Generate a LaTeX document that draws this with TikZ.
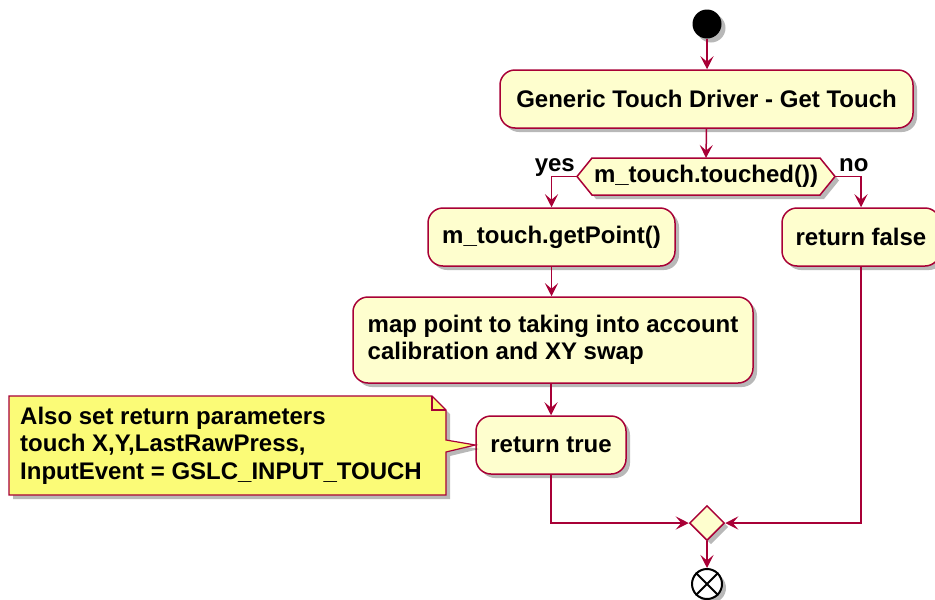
\documentclass[tikz,border=0pt]{standalone}
\usepackage{fontspec}
\setmainfont{Liberation Sans}
\usetikzlibrary{arrows.meta,shapes.geometric,shadows,calc}
\definecolor{umlborder}{HTML}{A80036}
\definecolor{umlfill}{HTML}{FEFECE}
\definecolor{notefill}{HTML}{FBFB77}
\tikzset{
  softshadow/.style={drop shadow={shadow xshift=4pt,shadow yshift=-4pt,fill=black,opacity=0.28}},
  txt/.style={font=\bfseries\fontsize{24}{27.5}\selectfont},
  action/.style={draw=umlborder, fill=umlfill, line width=1.5pt, rounded corners=15pt,
    softshadow, minimum height=58pt, inner sep=0pt, txt, align=left},
  lbl/.style={txt, inner sep=0pt},
  flow/.style={draw=umlborder, line width=1.5pt, -{Stealth[length=13pt,width=13pt,inset=5.5pt]}},
}
\begin{document}
\begin{tikzpicture}[x=1pt,y=-1pt]
\useasboundingbox (0,0) rectangle (935,600);

% start
\node[circle, fill=black, minimum size=29pt, inner sep=0pt, softshadow] (start) at (707,24) {};

\node[action, minimum width=413pt] (gen) at (706.5,99) {Generic Touch Driver - Get Touch};

% decision hexagon
\coordinate (decw) at (577,176.5);
\coordinate (dece) at (835,176.5);
\coordinate (decn) at (706,158);
\path[draw=umlborder, fill=umlfill, line width=1.5pt, softshadow]
  (decw) -- (592,158) -- (820,158) -- (dece) -- (820,195) -- (592,195) -- cycle;
\node[lbl] (dec) at (706,176.5) {m\_touch.touched())};
\node[lbl, anchor=base east] (yes) at (575,171) {yes};
\node[lbl, anchor=base west] (no) at (839,171) {no};

\node[action, minimum width=247pt] (getp) at (551.5,237) {m\_touch.getPoint()};
\node[action, minimum width=158pt] (retf) at (861,237) {return false};
\node[action, minimum width=400pt, minimum height=86pt] (mapp) at (553,340)
  {map point to taking into account\\calibration and XY swap};
\node[action, minimum width=150pt] (rett) at (551,445) {return true};

% note
\path[draw=umlborder, fill=notefill, line width=1.2pt, softshadow]
  (9,396) -- (432,396) -- (446,410) -- (446,440) -- (rett.west) -- (446,452)
  -- (446,495) -- (9,495) -- cycle;
\draw[umlborder, line width=1.2pt] (432,396) -- (432,410) -- (446,410);
\node[lbl, anchor=west, align=left] (notetext) at (20,445.5)
  {Also set return parameters\\touch X,Y,LastRawPress,\\InputEvent = GSLC\_INPUT\_TOUCH};

% merge and end
\node[diamond, draw=umlborder, fill=umlfill, line width=1.5pt, minimum width=35pt,
  minimum height=35pt, inner sep=0pt, softshadow] (merge) at (707,523) {};
\node[circle, draw=black, fill=white, line width=2pt, minimum size=30pt, inner sep=0pt,
  softshadow] (stop) at (707,584) {};
\draw[line width=2pt] (stop.north west) -- (stop.south east)
  (stop.north east) -- (stop.south west);

% connectors
\draw[flow] (start.south) -- (start.south |- gen.north);
\draw[flow] (gen.south) -- (decn);
\draw[flow] (decw) -| (getp.north);
\draw[flow] (dece) -| (retf.north);
\draw[flow] (getp.south) -- (getp.south |- mapp.north);
\draw[flow] (rett.north |- mapp.south) -- (rett.north);
\draw[flow] (rett.south) |- (merge.west);
\draw[flow] (retf.south) |- (merge.east);
\draw[flow] (merge.south) -- (stop.north);
\end{tikzpicture}
\end{document}
